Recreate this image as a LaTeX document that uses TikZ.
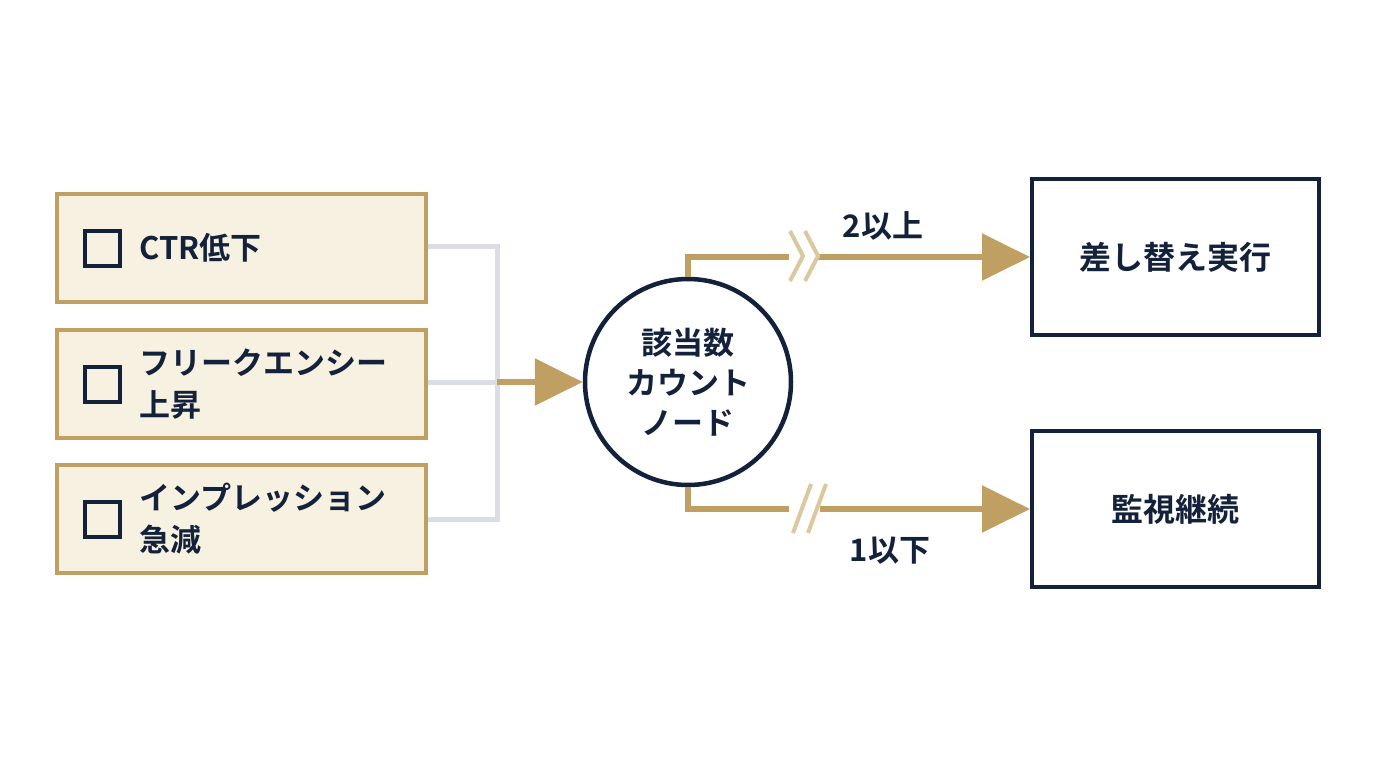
\documentclass[tikz,border=0pt]{standalone}
\usepackage{fontspec}
\newfontfamily\jp{Noto Sans CJK JP Bold}
\usetikzlibrary{arrows.meta}
\definecolor{gold}{HTML}{C0A062}
\definecolor{lgold}{HTML}{DCC79E}
\definecolor{cream}{HTML}{F7F1E1}
\definecolor{navy}{HTML}{13213B}
\definecolor{lgray}{HTML}{DADDE4}
\begin{document}
\begin{tikzpicture}[x=1pt,y=-1pt,
  cond/.style={draw=gold,line width=4pt,fill=cream,minimum width=369pt,minimum height=108pt,inner sep=0pt},
  res/.style={draw=navy,line width=4pt,fill=white,minimum width=287pt,minimum height=156pt,font=\jp\fontsize{32}{38}\selectfont,text=navy},
  chk/.style={draw=navy,line width=4pt,minimum size=35pt,inner sep=0pt},
  lbl/.style={font=\jp\fontsize{31}{42}\selectfont,text=navy,align=left,anchor=west},
  garr/.style={draw=gold,line width=6pt,-{Triangle[length=48pt,width=46pt]}},
  glin/.style={draw=lgray,line width=5pt},
  brk/.style={draw=lgold,line width=4pt}]
\useasboundingbox (0,0) rectangle (1376,768);
\node[cond] (c1) at (241.5,248) {};
\node[cond] (c2) at (241.5,383.5) {};
\node[cond] (c3) at (241.5,519) {};
\node[chk] (k1) at (102,248.5) {};
\node[chk] (k2) at (102,384) {};
\node[chk] (k3) at (102,519) {};
\node[lbl] (t1) at (136,248) {CTR低下};
\node[lbl] (t2) at (136,384) {フリークエンシー\\上昇};
\node[lbl] (t3) at (136,519) {インプレッション\\急減};
\coordinate (j) at (497,382);
\draw[glin] (c1.east|-0,246) -| (497,519) -- (c3.east|-0,519);
\draw[glin] (c2.east|-0,382) -- (j);
\node[circle,draw=navy,line width=4.5pt,fill=white,minimum size=206pt,inner sep=0pt,align=center,font=\jp\fontsize{31}{40}\selectfont,text=navy] (n) at (688,382) {該当数\\カウント\\ノード};
\draw[garr] (j) -- (n.west);
\node[res] (r1) at (1175.5,257) {差し替え実行};
\node[res] (r2) at (1175.5,509) {監視継続};
\draw[garr] (n.north) |- (r1.west);
\draw[garr] (n.south) |- (r2.west);
\fill[white] (789,246) rectangle (818,266);
\fill[white] (789,498) rectangle (820,518);
\draw[brk] (790,231) -- (803,256) -- (790,281);
\draw[brk] (805,231) -- (818,256) -- (805,281);
\draw[brk] (793,533) -- (811,484);
\draw[brk] (808,533) -- (826,484);
\node[font=\jp\fontsize{31}{36}\selectfont,text=navy] (l1) at (883,226) {2以上};
\node[font=\jp\fontsize{31}{36}\selectfont,text=navy] (l2) at (890,551) {1以下};
\end{tikzpicture}
\end{document}
